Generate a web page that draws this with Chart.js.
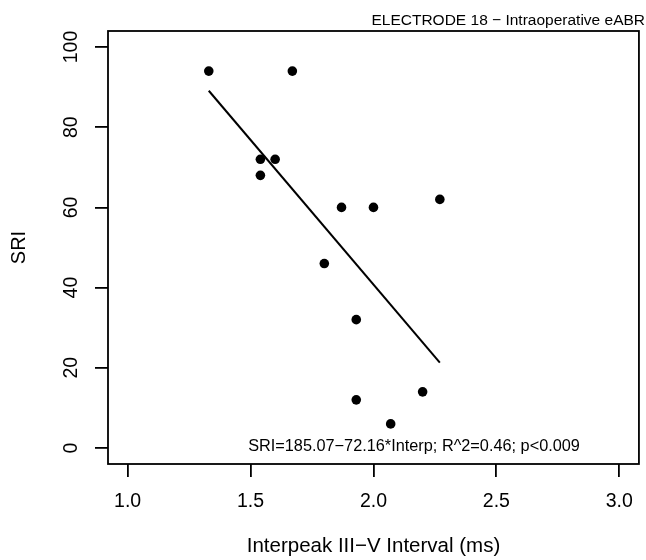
<!DOCTYPE html>
<html><head><meta charset="utf-8">
<script src="https://cdn.jsdelivr.net/npm/chart.js@4/dist/chart.umd.min.js"></script>
<style>html,body{margin:0;padding:0;background:#fff}#c{display:block}</style>
</head><body>
<canvas id="c" width="646" height="560"></canvas>
<script>
const interpeak = [1.33, 1.67, 1.54, 1.60, 1.54, 1.87, 2.00, 2.27, 1.80, 1.93, 1.93, 2.20, 2.07];
const sri       = [94,   94,   72,   72,   68,   60,   60,   62,   46,   32,   12,   14,   6];
const fitX = [1.33, 2.27];
const fitY = [89.1, 21.3];
const xTicks = [1.0, 1.5, 2.0, 2.5, 3.0];
const yTicks = [0, 20, 40, 60, 80, 100];
const titleText = 'ELECTRODE 18 \u2212 Intraoperative eABR';
const noteText = 'SRI=185.07\u221272.16*Interp; R^2=0.46; p<0.009';
const xTitle = 'Interpeak III\u2212V Interval (ms)';
const yTitle = 'SRI';
const noteAt = [2.165, 0.3];

const FONT = "'Liberation Sans', Arial, Helvetica, sans-serif";
Chart.defaults.font.family = FONT;
Chart.defaults.color = '#000';

const framePlugin = {
  id: 'frame',
  afterDatasetsDraw(chart) {
    const {ctx, chartArea: a} = chart;
    ctx.save();
    ctx.strokeStyle = '#000';
    ctx.lineWidth = 1.8;
    ctx.strokeRect(a.left, a.top, a.right - a.left, a.bottom - a.top);
    const x = chart.scales.x.getPixelForValue(noteAt[0]);
    const y = chart.scales.y.getPixelForValue(noteAt[1]);
    ctx.fillStyle = '#000';
    ctx.font = '16.3px ' + FONT;
    ctx.textAlign = 'center';
    ctx.textBaseline = 'middle';
    ctx.fillText(noteText, x, y);
    ctx.restore();
  }
};

new Chart(document.getElementById('c'), {
  type: 'scatter',
  data: {
    datasets: [
      {
        data: interpeak.map((v, i) => ({x: v, y: sri[i]})),
        backgroundColor: '#000', borderWidth: 0, pointRadius: 4.8, pointHoverRadius: 4.8
      },
      {
        type: 'line',
        data: fitX.map((v, i) => ({x: v, y: fitY[i]})),
        borderColor: '#000', borderWidth: 2, pointRadius: 0, fill: false, showLine: true
      }
    ]
  },
  options: {
    responsive: false,
    animation: false,
    events: [],
    layout: {padding: {left: 0, right: 1, top: 0, bottom: 0}},
    plugins: {
      legend: {display: false},
      tooltip: {enabled: false},
      title: {
        display: true, text: titleText, align: 'end', color: '#000',
        font: {size: 15.5, weight: 'normal', family: FONT, lineHeight: 1.2},
        padding: {top: 11, bottom: 1.4}
      }
    },
    scales: {
      x: {
        type: 'linear', min: 0.92, max: 3.08,
        afterBuildTicks: s => { s.ticks = xTicks.map(v => ({value: v})); },
        afterFit: s => { s.height = 96; },
        grid: {drawOnChartArea: false, drawTicks: true, tickLength: 13, color: '#000', lineWidth: 1.8},
        border: {display: false},
        ticks: {font: {size: 19.5}, padding: 13, color: '#000', callback: v => Number(v).toFixed(1), maxRotation: 0},
        title: {display: true, text: xTitle, font: {size: 20.5}, color: '#000', padding: {top: 1, bottom: 1}}
      },
      y: {
        type: 'linear', min: -4, max: 104,
        afterBuildTicks: s => { s.ticks = yTicks.map(v => ({value: v})); },
        afterFit: s => { s.width = 108; },
        grid: {drawOnChartArea: false, drawTicks: true, tickLength: 13, color: '#000', lineWidth: 1.8},
        border: {display: false},
        ticks: {font: {size: 19.5}, padding: 7, color: '#000', minRotation: 90, maxRotation: 90, crossAlign: 'center', callback: v => String(v)},
        title: {display: true, text: yTitle, font: {size: 20}, color: '#000', padding: {top: 7, bottom: 7}}
      }
    }
  },
  plugins: [framePlugin]
});
</script>
</body></html>
